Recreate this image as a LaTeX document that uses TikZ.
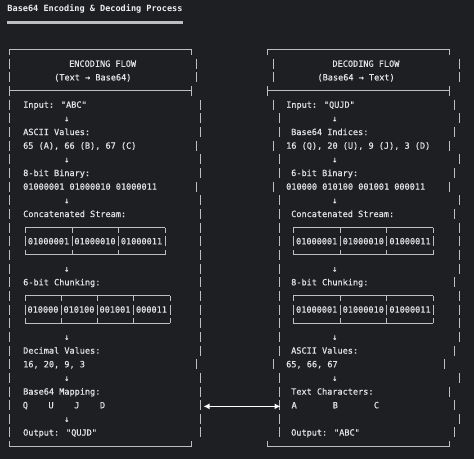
\documentclass[tikz,border=0pt]{standalone}
\usepackage{fontspec}
\usetikzlibrary{arrows.meta}
\newfontfamily\monof[FakeBold=0.6]{DejaVu Sans Mono}
\newfontfamily\monobf{DejaVu Sans Mono Bold}
\definecolor{bgc}{RGB}{30,31,34}
\definecolor{txtc}{RGB}{226,226,226}
\definecolor{linec}{RGB}{190,190,190}
\definecolor{titlec}{RGB}{238,238,238}
\newcommand{\rowY}[1]{(50+13.66*(#1))}
% table box: #1 top row, #2 first x, #3 last x, #4 all bar x's
\newcommand{\tablebox}[4]{%
  \draw[boxline] (#2,{\rowY{#1}}) -- (#3,{\rowY{#1}});
  \draw[boxline] (#2,{\rowY{#1+2}}) -- (#3,{\rowY{#1+2}});
  \foreach \xx in {#4} {%
    \draw[boxline] (\xx,{\rowY{#1}}) -- (\xx,{\rowY{#1}+5});
    \draw[boxline] (\xx,{\rowY{#1+1}-5}) -- (\xx,{\rowY{#1+1}+5});
    \draw[boxline] (\xx,{\rowY{#1+2}-5}) -- (\xx,{\rowY{#1+2}});
  }%
}
% outer frame: #1 left x, #2 right x
\newcommand{\outerframe}[2]{%
  \draw[boxline] (#1,{\rowY{0}+5}) -- (#1,{\rowY{0}}) -- (#2,{\rowY{0}}) -- (#2,{\rowY{0}+5});
  \draw[boxline] (#1,{\rowY{3}-5}) -- (#1,{\rowY{3}+5});
  \draw[boxline] (#2,{\rowY{3}-5}) -- (#2,{\rowY{3}+5});
  \draw[boxline] (#1,{\rowY{3}}) -- (#2,{\rowY{3}});
  \draw[boxline] (#1,{\rowY{29}-5}) -- (#1,{\rowY{29}}) -- (#2,{\rowY{29}}) -- (#2,{\rowY{29}-5});
}
\begin{document}
\begin{tikzpicture}[x=1bp,y=-1bp,
  boxline/.style={draw=linec,line width=1bp},
  txt/.style={text=txtc,font=\monof\fontsize{8.58pt}{10pt}\selectfont,inner sep=0pt,anchor=base west},
  ctxt/.style={txt,anchor=base},
  arrowtxt/.style={ctxt},
  titletxt/.style={txt,text=titlec,font=\monobf\fontsize{8.58pt}{10pt}\selectfont},
  dblarrow/.style={draw=white,line width=1.5bp,{Latex[length=6bp,width=6bp]}-{Latex[length=6bp,width=6bp]}}]
\fill[bgc] (0,0) rectangle (474,459);
\useasboundingbox (0,0) rectangle (474,459);

% title
\node[titletxt] (title) at (7.3,11.6) {Base64 Encoding \& Decoding Process};
\draw[draw=linec,line width=2.6bp] (7.3,22.7) -- (182.7,22.7);

% ---------- left frame ----------
\outerframe{9.5}{191}
\foreach \r in {1,2,4,5,...,28} {\draw[boxline] (9.5,{\rowY{\r}-5}) -- (9.5,{\rowY{\r}+5});}
\foreach \r/\xx in {1/196,2/196,4/200,5/200,6/200,7/196,8/200,9/200,10/196,11/200,12/200,13/200,14/200,15/200,16/200,17/200,18/200,19/200,20/200,21/200,22/200,23/196,24/200,25/200,26/200,27/200,28/200}
  {\draw[boxline] (\xx,{\rowY{\r}-5}) -- (\xx,{\rowY{\r}+5});}

% ---------- right frame ----------
\outerframe{267.5}{449}
\foreach \r/\xx in {1/273,2/273,4/273,5/279,6/279,7/273,8/279,9/279,10/273,11/279,12/279,13/279,14/279,15/279,16/279,17/279,18/279,19/279,20/279,21/279,22/279,23/273,24/279,25/279,26/279,27/279,28/279}
  {\draw[boxline] (\xx,{\rowY{\r}-5}) -- (\xx,{\rowY{\r}+5});}
\foreach \r/\xx in {1/459,2/459,4/454,5/459,6/454,7/449,8/459,9/454,10/449,11/459,12/454,13/459,14/459,15/459,16/459,17/454,18/459,19/459,20/459,21/459,22/454,23/444,24/459,25/449,26/454,27/459,28/454}
  {\draw[boxline] (\xx,{\rowY{\r}-5}) -- (\xx,{\rowY{\r}+5});}

% ---------- left texts ----------
\node[txt] (encH1) at (69,{\rowY{1}+3.1}) {ENCODING FLOW};
\node[txt] (encH2) at (54,{\rowY{2}+3.1}) {(Text → Base64)};
\node[txt] (encIn) at (23,{\rowY{4}+3.1}) {Input: "ABC"};
\node[txt] (encAsc) at (23,{\rowY{6}+3.1}) {ASCII Values:};
\node[txt] (encAscV) at (23,{\rowY{7}+3.1}) {65 (A), 66 (B), 67 (C)};
\node[txt] (encBin) at (23,{\rowY{9}+3.1}) {8-bit Binary:};
\node[txt] (encBinV) at (23,{\rowY{10}+3.1}) {01000001 01000010 01000011};
\node[txt] (encCat) at (23,{\rowY{12}+3.1}) {Concatenated Stream:};
\node[txt] (encChk) at (23,{\rowY{17}+3.1}) {6-bit Chunking:};
\node[txt] (encDec) at (23,{\rowY{22}+3.1}) {Decimal Values:};
\node[txt] (encDecV) at (23,{\rowY{23}+3.1}) {16, 20, 9, 3};
\node[txt] (encMap) at (23,{\rowY{25}+3.1}) {Base64 Mapping:};
\node[txt] (encQ) at (22.6,{\rowY{26}+3.1}) {Q};
\node[txt] (encU) at (48.3,{\rowY{26}+3.1}) {U};
\node[txt] (encJ) at (74.1,{\rowY{26}+3.1}) {J};
\node[txt] (encD) at (99.8,{\rowY{26}+3.1}) {D};
\node[txt] (encOut) at (23,{\rowY{28}+3.1}) {Output: "QUJD"};
\foreach \r [count=\i] in {5,8,11,16,21,24,27}
  {\node[arrowtxt] (encArr\i) at (66.8,{\rowY{\r}+3.1}) {↓};}

% left table boxes
\tablebox{13}{25}{165}{25,72,118,165}
\node[ctxt] (encC1) at (48.5,{\rowY{14}+3.1}) {01000001};
\node[ctxt] (encC2) at (95,{\rowY{14}+3.1}) {01000010};
\node[ctxt] (encC3) at (141.5,{\rowY{14}+3.1}) {01000011};
\tablebox{18}{25}{170}{25,61,97,133,170}
\node[ctxt] (encS1) at (43,{\rowY{19}+3.1}) {010000};
\node[ctxt] (encS2) at (79,{\rowY{19}+3.1}) {010100};
\node[ctxt] (encS3) at (115,{\rowY{19}+3.1}) {001001};
\node[ctxt] (encS4) at (151.5,{\rowY{19}+3.1}) {000011};

% ---------- right texts ----------
\node[txt] (decH1) at (332.3,{\rowY{1}+3.1}) {DECODING FLOW};
\node[txt] (decH2) at (317.3,{\rowY{2}+3.1}) {(Base64 → Text)};
\node[txt] (decIn) at (286,{\rowY{4}+3.1}) {Input: "QUJD"};
\node[txt] (decIdx) at (291,{\rowY{6}+3.1}) {Base64 Indices:};
\node[txt] (decIdxV) at (286,{\rowY{7}+3.1}) {16 (Q), 20 (U), 9 (J), 3 (D)};
\node[txt] (decBin) at (291,{\rowY{9}+3.1}) {6-bit Binary:};
\node[txt] (decBinV) at (286,{\rowY{10}+3.1}) {010000 010100 001001 000011};
\node[txt] (decCat) at (291,{\rowY{12}+3.1}) {Concatenated Stream:};
\node[txt] (decChk) at (291,{\rowY{17}+3.1}) {8-bit Chunking:};
\node[txt] (decAsc) at (291,{\rowY{22}+3.1}) {ASCII Values:};
\node[txt] (decAscV) at (286,{\rowY{23}+3.1}) {65, 66, 67};
\node[txt] (decChr) at (291,{\rowY{25}+3.1}) {Text Characters:};
\node[txt] (decA) at (291.4,{\rowY{26}+3.1}) {A};
\node[txt] (decB) at (332.5,{\rowY{26}+3.1}) {B};
\node[txt] (decC) at (373.7,{\rowY{26}+3.1}) {C};
\node[txt] (decOut) at (291,{\rowY{28}+3.1}) {Output: "ABC"};
\foreach \r [count=\i] in {5,8,11,16,21,24}
  {\node[arrowtxt] (decArr\i) at (334.8,{\rowY{\r}+3.1}) {↓};}

% right table boxes
\tablebox{13}{293.3}{433.3}{293.3,340,386.7,433.3}
\node[ctxt] (decC1) at (316.7,{\rowY{14}+3.1}) {01000001};
\node[ctxt] (decC2) at (363.3,{\rowY{14}+3.1}) {01000010};
\node[ctxt] (decC3) at (410,{\rowY{14}+3.1}) {01000011};
\tablebox{18}{293.3}{433.3}{293.3,340,386.7,433.3}
\node[ctxt] (decE1) at (316.7,{\rowY{19}+3.1}) {01000001};
\node[ctxt] (decE2) at (363.3,{\rowY{19}+3.1}) {01000010};
\node[ctxt] (decE3) at (410,{\rowY{19}+3.1}) {01000011};

% ---------- link between the flows ----------
\coordinate (encEdge) at (203.5,{\rowY{26}+1.2});
\coordinate (decEdge) at (280.5,{\rowY{26}+1.2});
\draw[dblarrow] (encEdge) -- (decEdge);
\end{tikzpicture}
\end{document}
